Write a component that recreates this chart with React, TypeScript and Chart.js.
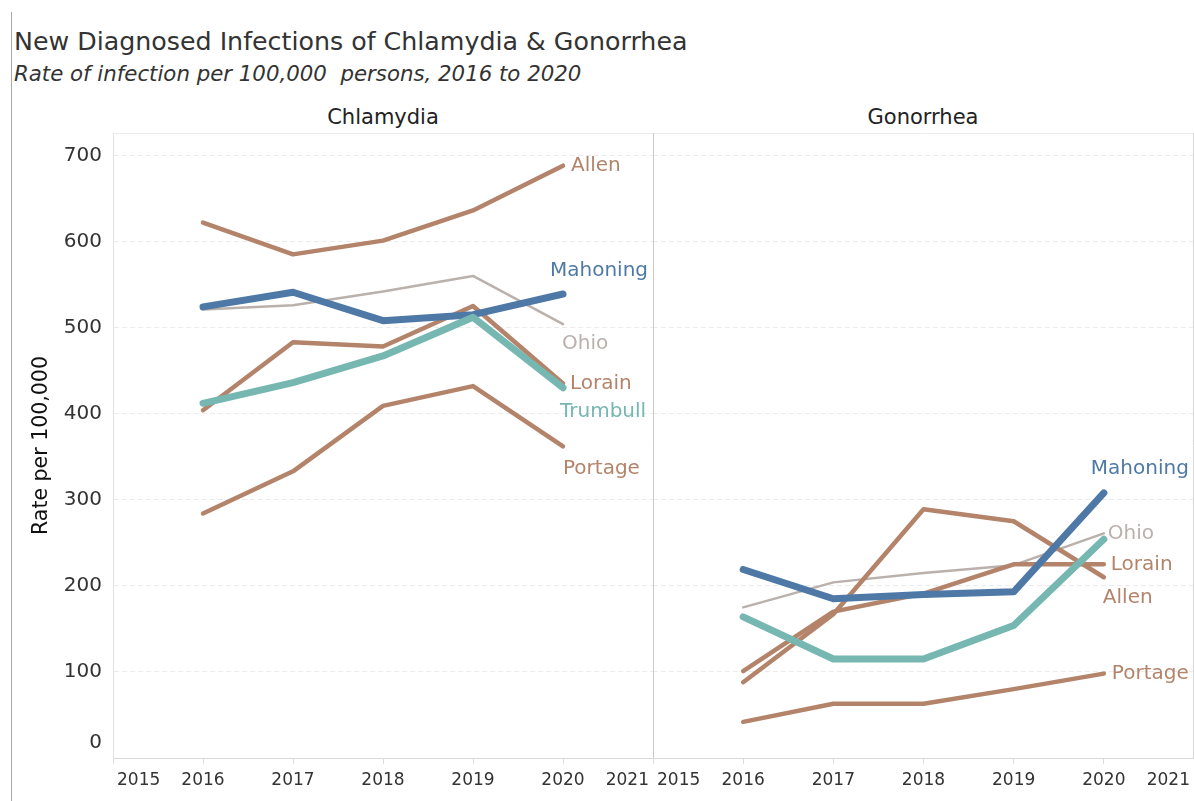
import React, { useEffect, useRef } from "react";
import { Chart, registerables } from "chart.js";
Chart.register(...registerables);

// ---------- data ----------
const years = [2016, 2017, 2018, 2019, 2020];
const xTickYears = [2015, 2016, 2017, 2018, 2019, 2020, 2021];
const yTickValues = [0, 100, 200, 300, 400, 500, 600, 700];
const panelNames = ["Chlamydia", "Gonorrhea"];

const chlamydiaAllen = [622, 585, 601, 636, 688];
const chlamydiaMahoning = [524, 541, 508, 515, 539];
const chlamydiaOhio = [521, 526, 542, 560, 504];
const chlamydiaLorain = [404, 483, 478, 525, 435];
const chlamydiaTrumbull = [412, 436, 467, 512, 430];
const chlamydiaPortage = [284, 333, 409, 432, 362];

const gonorrheaAllen = [88, 167, 289, 275, 210];
const gonorrheaMahoning = [219, 185, 190, 193, 308];
const gonorrheaOhio = [175, 204, 215, 224, 261];
const gonorrheaLorain = [101, 170, 191, 225, 225];
const gonorrheaTrumbull = [164, 115, 115, 154, 254];
const gonorrheaPortage = [42, 63, 63, 80, 98];

// ---------- styles ----------
const FONT = '"DejaVu Sans", "Noto Sans", sans-serif';
const BROWN = "#b3836a";
const STYLE: Record<string, { color: string; width: number }> = {
  Ohio: { color: "#bab0ac", width: 2.5 },
  Mahoning: { color: "#4e79a7", width: 7 },
  Trumbull: { color: "#76b7b2", width: 7 },
  Allen: { color: BROWN, width: 4.5 },
  Lorain: { color: BROWN, width: 4.5 },
  Portage: { color: BROWN, width: 4.5 },
};
// label offsets relative to the last point [dx, dy]
const chlamydiaLabelPos: Record<string, [number, number]> = {
  Allen: [8, 0], Mahoning: [-13, -23], Ohio: [-1, 20], Lorain: [7, 0], Trumbull: [-3, 24], Portage: [0, 22],
};
const gonorrheaLabelPos: Record<string, [number, number]> = {
  Mahoning: [-13, -24], Ohio: [4, 0], Lorain: [7, 0], Allen: [-1, 21], Portage: [8, 0],
};

const drawOrder = ["Trumbull", "Mahoning", "Allen", "Lorain", "Portage", "Ohio"];

const chlamydiaSeries: Record<string, number[]> = {
  Allen: chlamydiaAllen, Mahoning: chlamydiaMahoning, Ohio: chlamydiaOhio,
  Lorain: chlamydiaLorain, Trumbull: chlamydiaTrumbull, Portage: chlamydiaPortage,
};
const gonorrheaSeries: Record<string, number[]> = {
  Allen: gonorrheaAllen, Mahoning: gonorrheaMahoning, Ohio: gonorrheaOhio,
  Lorain: gonorrheaLorain, Trumbull: gonorrheaTrumbull, Portage: gonorrheaPortage,
};

const Y_MAX = 726;

function buildDatasets(series: Record<string, number[]>, labelPos: Record<string, [number, number]>) {
  return drawOrder.map((name) => ({
    label: name,
    data: years.map((yr, i) => ({ x: yr, y: series[name][i] })),
    borderColor: STYLE[name].color,
    backgroundColor: STYLE[name].color,
    borderWidth: STYLE[name].width,
    pointRadius: 0,
    borderCapStyle: "round",
    borderJoinStyle: "round",
    tension: 0,
    endLabelPos: labelPos[name] || null,
  }));
}

const framePlugin = {
  id: "frame",
  beforeDatasetsDraw(chart: any, _a: any, opts: any) {
    const { ctx, chartArea: a } = chart;
    ctx.save();
    ctx.lineWidth = 1;
    ctx.strokeStyle = "#ececec";
    ctx.beginPath();
    ctx.moveTo(a.left, a.top + 0.5);
    ctx.lineTo(a.right, a.top + 0.5);
    ctx.stroke();
    if (opts.leftDivider) {
      ctx.strokeStyle = "#c9c9c9";
      ctx.beginPath();
      ctx.moveTo(a.left + 0.5, a.top);
      ctx.lineTo(a.left + 0.5, a.bottom);
      ctx.stroke();
    }
    if (opts.rightEdge) {
      ctx.strokeStyle = "#d6d6d6";
      ctx.beginPath();
      ctx.moveTo(a.right - 0.5, a.top);
      ctx.lineTo(a.right - 0.5, a.bottom);
      ctx.stroke();
    }
    ctx.restore();
  },
};

const endLabelPlugin = {
  id: "endLabels",
  afterDatasetsDraw(chart: any) {
    const { ctx } = chart;
    ctx.save();
    ctx.font = `20px ${FONT}`;
    ctx.textAlign = "left";
    ctx.textBaseline = "middle";
    chart.data.datasets.forEach((ds: any, i: number) => {
      if (!ds.endLabelPos) return;
      const meta = chart.getDatasetMeta(i);
      const pt = meta.data[meta.data.length - 1];
      ctx.fillStyle = ds.borderColor;
      ctx.fillText(ds.label, pt.x + ds.endLabelPos[0], pt.y + ds.endLabelPos[1]);
    });
    ctx.restore();
  },
};

// tick labels: Tableau pushes edge labels inward
const axisLabelPlugin = {
  id: "axisLabels",
  afterDraw(chart: any, _a: any, opts: any) {
    const { ctx } = chart;
    const xs = chart.scales.x;
    const ys = chart.scales.y;
    ctx.save();
    ctx.fillStyle = "#333";
    ctx.font = `17px ${FONT}`;
    ctx.textBaseline = "top";
    const n = xTickYears.length;
    xTickYears.forEach((v, i) => {
      let px = xs.getPixelForValue(v);
      if (i === 0) { ctx.textAlign = "left"; px += 4; }
      else if (i === n - 1) { ctx.textAlign = "right"; px -= 4; }
      else ctx.textAlign = "center";
      ctx.fillText(String(v), px, chart.chartArea.bottom + 14);
    });
    if (opts.showY) {
      ctx.font = `20px ${FONT}`;
      ctx.textAlign = "right";
      ctx.textBaseline = "middle";
      yTickValues.forEach((v, i) => {
        const py = ys.getPixelForValue(v) - (i === 0 ? 15 : 0);
        ctx.fillText(String(v), ys.right - 11, py);
      });
    }
    ctx.restore();
  },
};

function makeConfig(series: Record<string, number[]>, labelPos: Record<string, [number, number]>, isLeft: boolean): any {
  return {
    type: "line",
    data: { datasets: buildDatasets(series, labelPos) },
    plugins: [framePlugin, endLabelPlugin, axisLabelPlugin],
    options: {
      responsive: false,
      animation: false,
      events: [],
      layout: { padding: { top: 13, right: 0, left: 0, bottom: 0 } },
      plugins: {
        legend: { display: false },
        tooltip: { enabled: false },
        frame: { leftDivider: !isLeft, rightEdge: !isLeft },
        axisLabels: { showY: isLeft },
      },
      scales: {
        x: {
          type: "linear",
          min: xTickYears[0],
          max: xTickYears[xTickYears.length - 1],
          afterBuildTicks: (s: any) => { s.ticks = xTickYears.map((v) => ({ value: v })); },
          afterFit: (s: any) => { s.height = 43; s.paddingLeft = 0; s.paddingRight = 0; },
          ticks: {
            callback: () => "",
            font: { family: FONT, size: 17 },
            padding: 6,
            maxRotation: 0,
            autoSkip: false,
          },
          grid: { drawOnChartArea: false, drawTicks: true, tickLength: 6, tickColor: "#dcdcdc", color: "#dcdcdc" },
          border: { display: true, color: "#d9d9d9", width: 1 },
        },
        y: {
          type: "linear",
          min: 0,
          max: Y_MAX,
          afterBuildTicks: (s: any) => { s.ticks = yTickValues.map((v) => ({ value: v })); },
          afterFit: (s: any) => { s.width = isLeft ? 113 : 0; s.paddingTop = 0; s.paddingBottom = 0; },
          ticks: {
            display: isLeft,
            callback: () => "",
            font: { family: FONT, size: 20 },
            padding: 11,
          },
          grid: {
            drawTicks: false,
            color: (c: any) => (c.tick && c.tick.value === 0 ? "rgba(0,0,0,0)" : "#ebebeb"),
          },
          border: { display: isLeft, color: "#e2e2e2", dash: [5, 3] },
          title: {
            display: isLeft,
            text: "Rate per 100,000",
            font: { family: FONT, size: 20.5 },
            color: "#111",
            padding: { top: 29, bottom: 0 },
          },
        },
      },
    },
  };
}

function PanelChart({ series, labelPos, isLeft, left, width }: any) {
  const ref = useRef<HTMLCanvasElement | null>(null);
  useEffect(() => {
    if (!ref.current) return;
    const chart = new Chart(ref.current, makeConfig(series, labelPos, isLeft));
    return () => chart.destroy();
  }, []);
  return (
    <canvas
      ref={ref}
      width={width}
      height={681}
      style={{ position: "absolute", left, top: 120, width, height: 681 }}
    />
  );
}

export default function App() {
  return (
    <div style={{ position: "absolute", left: 0, top: 0, width: 1194, height: 801, background: "#fff", overflow: "hidden", fontFamily: FONT }}>
      <div style={{ position: "absolute", left: 11, top: 12, width: 1, height: 789, background: "#a8a8a8" }} />
      <div style={{ position: "absolute", left: 14, top: 27, fontSize: 25.3, color: "#333", whiteSpace: "nowrap", lineHeight: "29px" }}>
        New Diagnosed Infections of Chlamydia &amp; Gonorrhea
      </div>
      <div style={{ position: "absolute", left: 14, top: 62, fontSize: 21.3, fontStyle: "italic", color: "#333", whiteSpace: "nowrap", lineHeight: "24px" }}>
        Rate of infection per 100,000&nbsp; persons, 2016 to 2020
      </div>
      <div style={{ position: "absolute", left: 113, width: 540, top: 105, textAlign: "center", fontSize: 21, color: "#222", lineHeight: "24px" }}>
        {panelNames[0]}
      </div>
      <div style={{ position: "absolute", left: 653, width: 540, top: 105, textAlign: "center", fontSize: 21, color: "#222", lineHeight: "24px" }}>
        {panelNames[1]}
      </div>
      <PanelChart series={chlamydiaSeries} labelPos={chlamydiaLabelPos} isLeft={true} left={0} width={653} />
      <PanelChart series={gonorrheaSeries} labelPos={gonorrheaLabelPos} isLeft={false} left={653} width={541} />
    </div>
  );
}
